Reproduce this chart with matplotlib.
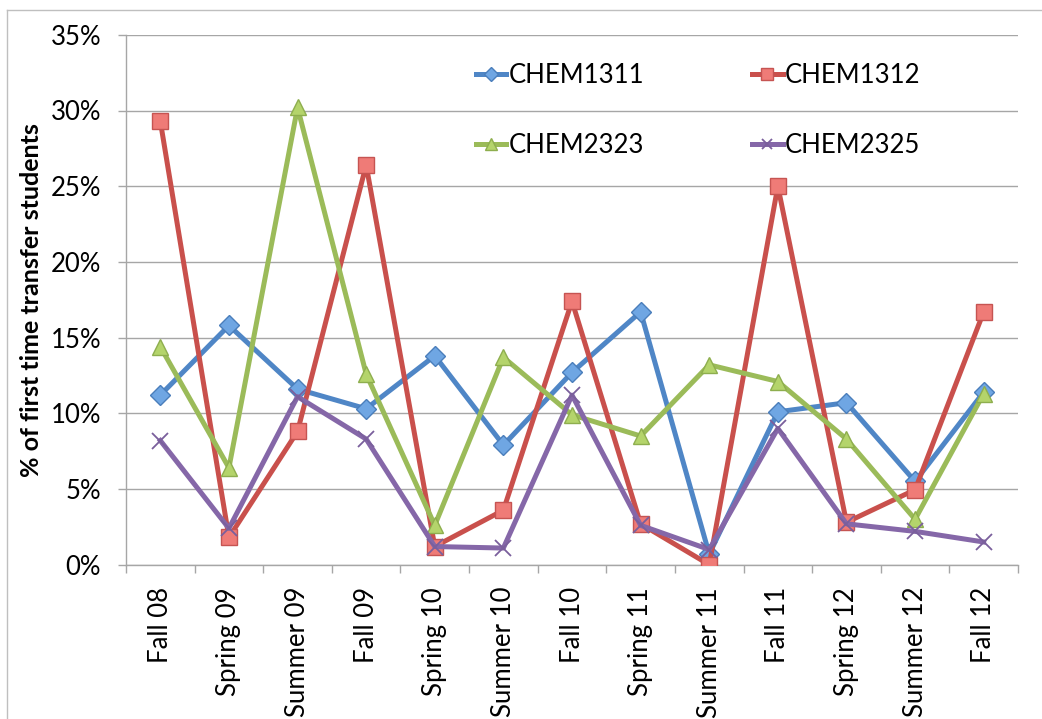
import matplotlib
matplotlib.use("Agg")
import matplotlib.pyplot as plt
from matplotlib.lines import Line2D
from matplotlib.ticker import PercentFormatter, FixedLocator, NullFormatter

terms = ["Fall 08", "Spring 09", "Summer 09", "Fall 09", "Spring 10", "Summer 10",
         "Fall 10", "Spring 11", "Summer 11", "Fall 11", "Spring 12", "Summer 12", "Fall 12"]
chem1311 = [11.2, 15.8, 11.6, 10.3, 13.8, 7.9, 12.7, 16.7, 0.7, 10.1, 10.7, 5.5, 11.4]
chem1312 = [29.3, 1.8, 8.8, 26.4, 1.2, 3.6, 17.4, 2.7, 0.0, 25.0, 2.8, 4.95, 16.7]
chem2323 = [14.4, 6.4, 30.2, 12.6, 2.6, 13.7, 9.9, 8.5, 13.2, 12.1, 8.3, 3.0, 11.3]
chem2325 = [8.2, 2.4, 11.1, 8.3, 1.2, 1.1, 11.2, 2.6, 1.0, 9.0, 2.7, 2.2, 1.5]

plt.rcParams['font.family'] = ['Lato', 'DejaVu Sans']

fig = plt.figure(figsize=(10.42, 7.19), dpi=100)
ax = fig.add_axes([126/1042, 1-564.7/719, 892/1042, 529.9/719])

x = list(range(len(terms)))
series = [
    ("CHEM1311", chem1311, "#4f86c6", "D", "#6fa6e3", "#4a7ebb", 10),
    ("CHEM1312", chem1312, "#c9504c", "s", "#ef7b77", "#c65452", 11.5),
    ("CHEM2323", chem2323, "#9bbb59", "^", "#b4d46b", "#8eae4e", 12),
    ("CHEM2325", chem2325, "#8567a8", "x", "#8064a2", "#7a5f9c", 11),
]
handles = {}
for name, vals, col, mk, fc, ec, ms in series:
    h, = ax.plot(x, vals, color=col, lw=3.6, marker=mk, markersize=ms,
                 markerfacecolor=fc, markeredgecolor=ec,
                 markeredgewidth=1.0 if mk != "x" else 1.3,
                 label=name, zorder=3, solid_joinstyle='round')
    handles[name] = h

ax.set_xlim(-0.5, len(terms) - 0.5)
ax.set_ylim(0, 35)
ax.yaxis.set_major_locator(FixedLocator([0, 5, 10, 15, 20, 25, 30, 35]))
ax.yaxis.set_major_formatter(PercentFormatter(decimals=0))
ax.grid(axis='y', color='#a6a6a6', lw=1.0)
ax.set_axisbelow(True)

ax.set_xticks(x)
ax.set_xticklabels(terms, rotation=90, fontsize=18.5)
ax.tick_params(axis='x', which='major', length=0, pad=16)
ax.set_xticks([i - 0.5 for i in range(len(terms) + 1)], minor=True)
ax.xaxis.set_minor_formatter(NullFormatter())
ax.tick_params(axis='x', which='minor', length=6, color='#a6a6a6', width=1)
ax.tick_params(axis='y', length=6, color='#a6a6a6', width=1, labelsize=18.5, pad=12)

for s in ['top', 'right']:
    ax.spines[s].set_visible(False)
for s in ['left', 'bottom']:
    ax.spines[s].set_color('#a6a6a6')
    ax.spines[s].set_linewidth(1.0)

ax.set_ylabel("% of first time transfer students", fontsize=18, fontweight='bold', labelpad=5)

order = ["CHEM1311", "CHEM2323", "CHEM1312", "CHEM2325"]
leg = ax.legend([handles[n] for n in order], order, ncol=2, loc='upper left',
                bbox_to_anchor=(0.366, 0.99), frameon=False,
                fontsize=18.5, handlelength=1.2, handletextpad=0.08, columnspacing=4.2,
                labelspacing=1.76, markerscale=0.7)

fig.add_artist(Line2D([7/1042, 1.0], [1 - 10/719, 1 - 10/719], transform=fig.transFigure,
                      color='#bfbfbf', lw=1.0))
fig.add_artist(Line2D([7/1042, 7/1042], [0.0, 1 - 10/719], transform=fig.transFigure,
                      color='#bfbfbf', lw=1.0))

fig.savefig("out.png", dpi=100)
